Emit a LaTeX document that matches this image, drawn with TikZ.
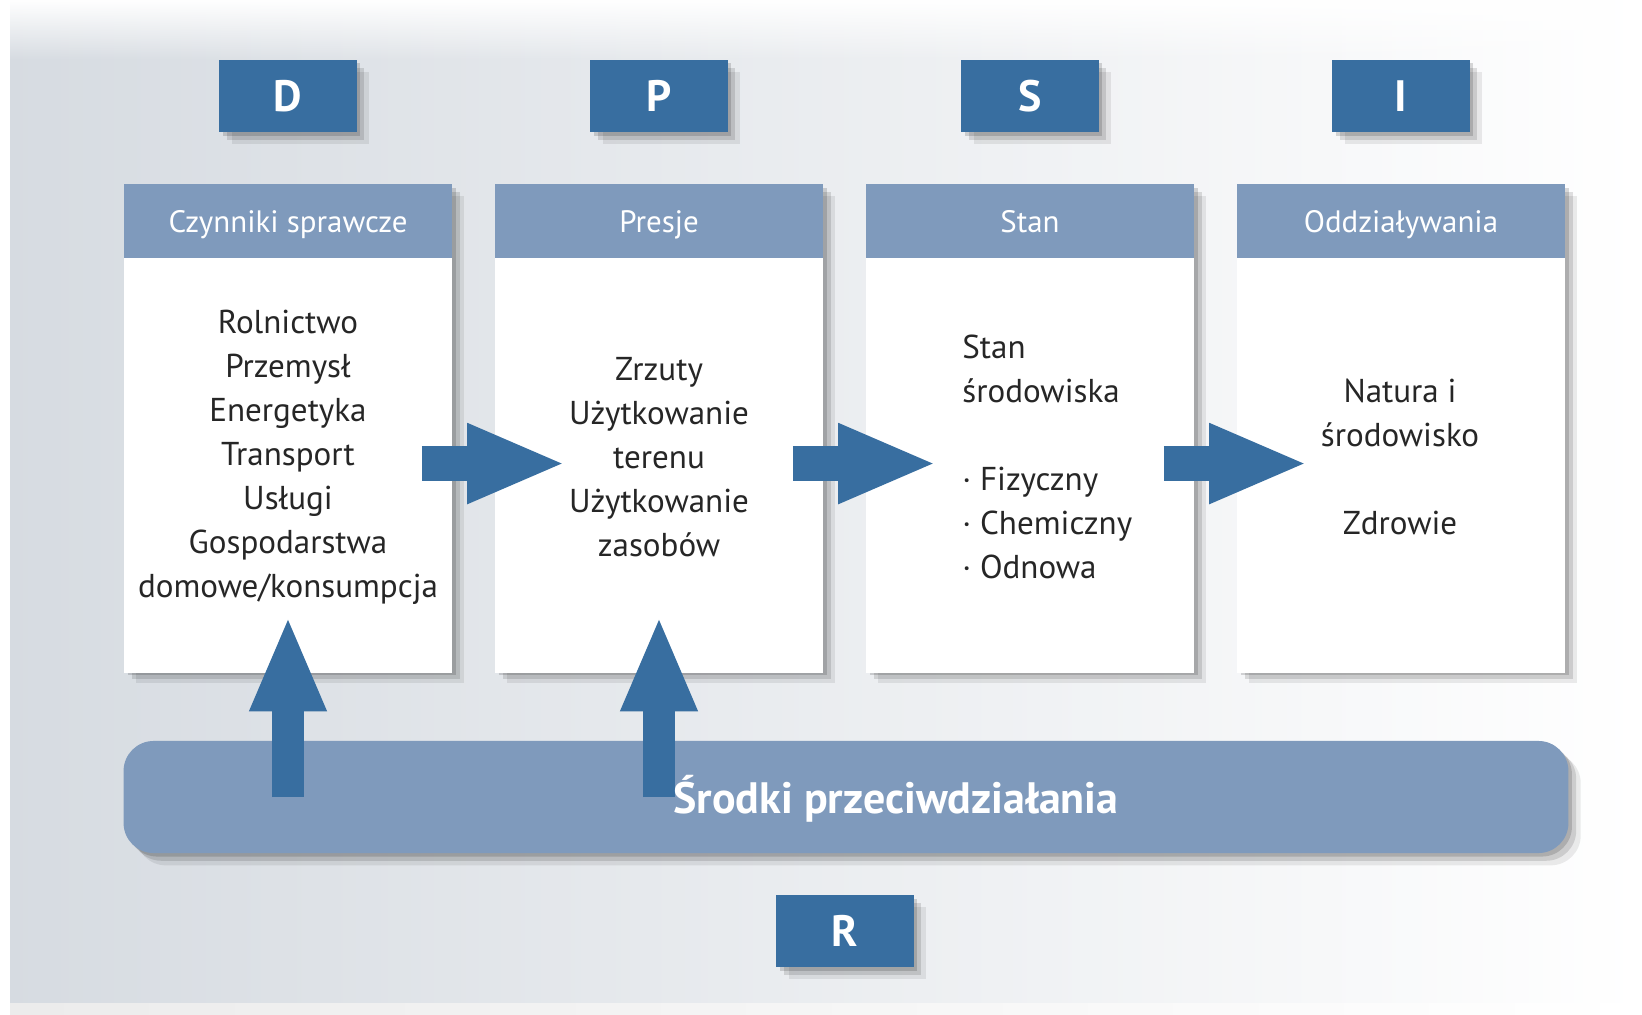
\documentclass[tikz,border=0pt]{standalone}
\usepackage{fontspec}
\setmainfont{PT Sans}
\usetikzlibrary{positioning,arrows.meta,shadows,fadings}

\definecolor{labelblue}{RGB}{56,110,160}
\definecolor{headblue}{RGB}{127,154,188}
\definecolor{bgleft}{RGB}{214,219,225}
\definecolor{bgmid}{RGB}{225,227,230}

\tikzset{
  softshadow/.style={drop shadow={shadow xshift=3.5pt, shadow yshift=-3.5pt, opacity=0.08, fill=black},
    drop shadow={shadow xshift=2.2pt, shadow yshift=-2.2pt, opacity=0.12, fill=black},
    drop shadow={shadow xshift=1pt, shadow yshift=-1pt, opacity=0.15, fill=black}},
  labelbox/.style={fill=labelblue, text=white, font=\fontsize{12.5}{14}\selectfont\bfseries,
    minimum width=1.37cm, minimum height=0.72cm, inner sep=0pt, softshadow},
  headbox/.style={fill=headblue, text=white, font=\fontsize{8.8}{10}\selectfont,
    minimum width=3.28cm, minimum height=0.74cm, inner sep=0pt, text height=0.72em, text depth=0.04em},
  bodybox/.style={fill=white, minimum width=3.28cm, minimum height=4.13cm, inner sep=0pt},
  bodytext/.style={font=\fontsize{9.4}{12.5}\selectfont, align=center, text=black!85},
  bandbox/.style={fill=headblue, rounded corners=0.3cm, minimum width=14.44cm,
    minimum height=1.12cm, inner sep=0pt, softshadow},
  bandtext/.style={text=white, font=\fontsize{12.5}{14}\selectfont\bfseries},
  flowarrow/.style={draw=labelblue, line width=0.35cm, -{Triangle[length=0.99cm,width=0.73cm]}},
  uparrow/.style={draw=labelblue, line width=0.32cm, -{Triangle[length=0.96cm,width=0.70cm]}}
}

\begin{document}
\begin{tikzpicture}[x=0.01cm, y=-0.01cm]
    % Background
    \useasboundingbox (0,0) rectangle (1642,1015);
    \shade[left color=bgleft, middle color=bgmid, right color=white] (0,0) rectangle (1642,1015);
    \fill[white, path fading=south] (10,0) rectangle (1642,60);
    \shade[left color=gray!15, middle color=gray!55, right color=white] (10,1003) rectangle (1642,1015);
    \fill[white] (0,0) rectangle (10,1015);

    % Letter boxes D P S I
    \foreach \lab/\x in {D/288, P/659, S/1030, I/1401} {
        \node[labelbox] (l\lab) at (\x,96) {\lab};
    }

    % Columns: shadow, header and body
    \foreach \i/\x/\head in {1/288/Czynniki sprawcze, 2/659/Presje, 3/1030/Stan, 4/1401/Oddziaływania} {
        \fill[white, softshadow] (\x-164,184) rectangle (\x+164,671);
        \node[headbox] (h\i) at (\x,221) {\head};
        \node[bodybox, below=0pt of h\i] (b\i) {};
    }

    % Column texts
    \node[bodytext] (t1) at (288,457) {Rolnictwo\\Przemysł\\Energetyka\\Transport\\Usługi\\Gospodarstwa\\domowe/konsumpcja};
    \node[bodytext] (t2) at (659,457) {Zrzuty\\Użytkowanie\\terenu\\Użytkowanie\\zasobów};
    \node[bodytext, align=left, anchor=west] (t3) at (950,457) {Stan\\środowiska\\[12.5pt]· Fizyczny\\· Chemiczny\\· Odnowa};
    \node[bodytext] (t4) at (1400,457) {Natura i\\środowisko\\[12.5pt]Zdrowie};

    % Arrows between columns
    \foreach \a/\b in {1/2, 2/3, 3/4} {
        \draw[flowarrow] ([xshift=-0.31cm,yshift=0.025cm]b\a.east) -- ([xshift=0.72cm,yshift=0.025cm]b\b.west);
    }

    % Response band
    \node[bandbox] (m) at (846,797) {};
    \draw[uparrow] (b1 |- m.center) -- ([yshift=0.58cm]b1.south);
    \draw[uparrow] (b2 |- m.center) -- ([yshift=0.58cm]b2.south);
    \node[bandtext] (mt) at (896,799) {Środki przeciwdziałania};

    % Letter box R
    \node[labelbox] (lR) at (845,931) {R};
\end{tikzpicture}
\end{document}
